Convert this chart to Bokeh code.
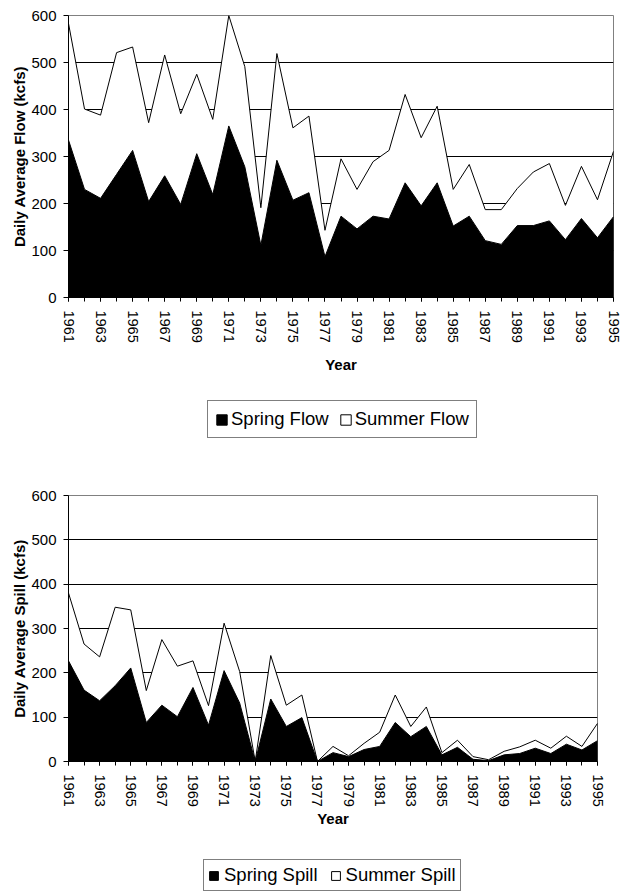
from bokeh.plotting import figure
from bokeh.models import Range1d, FixedTicker, Legend, LegendItem
from bokeh.layouts import column
from bokeh.embed import file_html
from bokeh.resources import INLINE

years = list(range(1961, 1996))
tick_years = list(range(1961, 1996, 2))
y_ticks = [0, 100, 200, 300, 400, 500, 600]
grid_ticks = [100, 200, 300, 400, 500]

spring_flow = [335, 230, 211, 262, 313, 204, 259, 198, 306, 219, 365, 278, 111, 292, 207, 223,
               87, 173, 146, 173, 167, 244, 195, 244, 152, 173, 121, 113, 153, 153, 163, 123,
               168, 127, 172]
summer_flow = [248, 171, 177, 259, 220, 168, 257, 193, 169, 160, 235, 213, 80, 227, 154, 163,
               56, 122, 84, 116, 146, 188, 145, 163, 78, 110, 66, 74, 79, 114, 122, 73,
               111, 81, 139]

spring_spill = [227, 161, 137, 171, 211, 88, 127, 101, 167, 82, 205, 132, 0, 141, 79, 99,
                0, 20, 11, 27, 34, 88, 56, 79, 15, 32, 5, 2, 15, 18, 30, 18,
                39, 26, 47]
summer_spill = [153, 104, 99, 177, 131, 72, 148, 114, 60, 44, 107, 71, 0, 98, 48, 51,
                0, 14, 2, 14, 32, 62, 23, 44, 5, 16, 6, 2, 8, 15, 18, 12,
                18, 8, 39]

FONT = "Liberation Sans"
FIG_W = 621


def area_polys(spring, summer):
    total = [a + b for a, b in zip(spring, summer)]
    xs = years + years[::-1]
    return xs, spring + [0] * len(years), total + spring[::-1]


def make_chart(spring, summer, ylabel, fw, fh, bl, bt, bb, xlab_standoff):
    p = figure(frame_width=fw, frame_height=fh,
               min_border_left=bl, min_border_top=bt,
               min_border_bottom=bb, min_border_right=FIG_W - bl - fw,
               x_range=Range1d(1961, 1995), y_range=Range1d(0, 600),
               output_backend="svg", toolbar_location=None)
    p.background_fill_color = "white"
    p.border_fill_color = "white"
    p.outline_line_color = "#808080"
    p.outline_line_width = 1

    xs, y_spring, y_summer = area_polys(spring, summer)
    p.patch(xs, y_spring, fill_color="black", line_color="black", line_width=1)
    p.patch(xs, y_summer, fill_color="white", line_color="black", line_width=1)

    p.xgrid.visible = False
    p.ygrid.ticker = FixedTicker(ticks=grid_ticks)
    p.ygrid.grid_line_color = "black"
    p.ygrid.grid_line_width = 1

    ya = p.yaxis[0]
    ya.ticker = FixedTicker(ticks=y_ticks)
    ya.axis_label = ylabel
    ya.axis_line_color = "black"
    ya.major_tick_out = 5
    ya.major_tick_in = 0
    ya.minor_tick_out = 0
    ya.major_label_standoff = 7
    ya.axis_label_standoff = 0
    ya.major_label_text_font = FONT
    ya.major_label_text_font_size = "15px"
    ya.major_label_text_color = "black"
    ya.axis_label_text_font = FONT
    ya.axis_label_text_font_size = "15px"
    ya.axis_label_text_font_style = "bold"
    ya.axis_label_text_color = "black"

    xa = p.xaxis[0]
    xa.ticker = FixedTicker(ticks=tick_years, minor_ticks=years)
    xa.axis_label = "Year"
    xa.axis_line_color = "black"
    xa.major_tick_out = 4
    xa.major_tick_in = 0
    xa.minor_tick_out = 4
    xa.minor_tick_in = 0
    xa.major_label_orientation = "vertical"
    xa.major_label_standoff = 9
    xa.axis_label_standoff = xlab_standoff
    xa.major_label_text_font = FONT
    xa.major_label_text_font_size = "14.5px"
    xa.major_label_text_color = "black"
    xa.axis_label_text_font = FONT
    xa.axis_label_text_font_size = "15px"
    xa.axis_label_text_font_style = "bold"
    xa.axis_label_text_color = "black"
    return p


def make_legend(spring, summer, names, height, left, bottom, glyph_size, pad,
                standoff, spacing):
    # legend strip; its patches use the same series but lie outside this strip's range
    lf = figure(width=FIG_W, height=height, min_border=0,
                x_range=Range1d(0, 1), y_range=Range1d(-2000, -1000),
                x_axis_location=None, y_axis_location=None,
                output_backend="svg", toolbar_location=None)
    lf.outline_line_color = None
    lf.grid.visible = False
    xs, y_spring, y_summer = area_polys(spring, summer)
    r1 = lf.patch(xs, y_spring, fill_color="black", line_color="black", line_width=1)
    r2 = lf.patch(xs, y_summer, fill_color="white", line_color="black", line_width=1)
    legend = Legend(items=[LegendItem(label=names[0], renderers=[r1]),
                           LegendItem(label=names[1], renderers=[r2])],
                    location=(left, bottom), orientation="horizontal",
                    glyph_width=glyph_size, glyph_height=glyph_size,
                    label_standoff=standoff, spacing=spacing, padding=pad, margin=0,
                    border_line_color="black", border_line_width=1,
                    background_fill_color="white", background_fill_alpha=1,
                    label_text_font=FONT, label_text_font_size="18.5px",
                    label_text_color="black")
    lf.add_layout(legend)
    return lf


p1 = make_chart(spring_flow, summer_flow, "Daily Average Flow (kcfs)",
                545, 282, 67, 15, 85, 10)
l1 = make_legend(spring_flow, summer_flow, ["Spring Flow", "Summer Flow"],
                 68, 139, 12, 13, 7, 3, 10)
p2 = make_chart(spring_spill, summer_spill, "Daily Average Spill (kcfs)",
                529, 266, 68, 45, 70, 0)
l2 = make_legend(spring_spill, summer_spill, ["Spring Spill", "Summer Spill"],
                 61, 135, 1, 11, 4, 5, 12)

layout = column(p1, l1, p2, l2, spacing=0)
open("out.html", "w").write(file_html(layout, INLINE))
